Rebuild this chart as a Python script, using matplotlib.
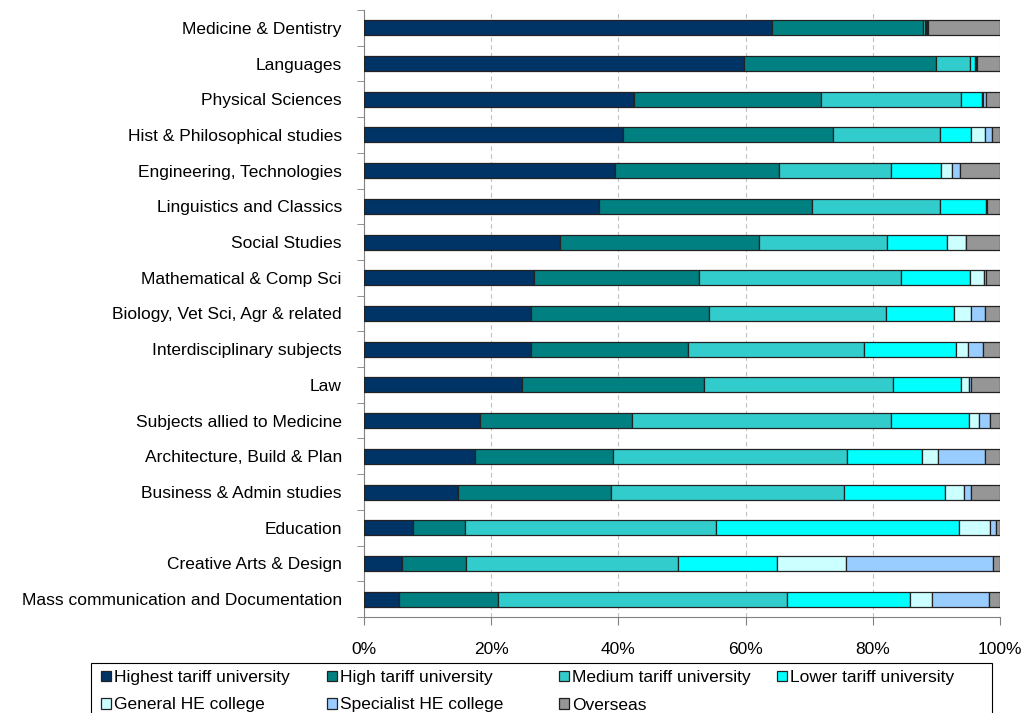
import matplotlib
matplotlib.use("Agg")
import matplotlib.pyplot as plt
from matplotlib.patches import Rectangle
import numpy as np

plt.rcParams["font.family"] = ["Liberation Sans", "DejaVu Sans"]

subjects = [
    "Medicine & Dentistry", "Languages", "Physical Sciences",
    "Hist & Philosophical studies", "Engineering, Technologies",
    "Linguistics and Classics", "Social Studies", "Mathematical & Comp Sci",
    "Biology, Vet Sci, Agr & related", "Interdisciplinary subjects", "Law",
    "Subjects allied to Medicine", "Architecture, Build & Plan",
    "Business & Admin studies", "Education", "Creative Arts & Design",
    "Mass communication and Documentation",
]

series_names = [
    "Highest tariff university", "High tariff university",
    "Medium tariff university", "Lower tariff university",
    "General HE college", "Specialist HE college", "Overseas",
]

highest = [64.1, 59.8, 42.4, 40.7, 39.5, 36.9, 30.8, 26.8, 26.3, 26.3, 24.8, 18.2, 17.4, 14.8, 7.7, 5.9, 5.5]
high = [23.8, 30.2, 29.5, 33.0, 25.8, 33.4, 31.3, 25.8, 28.0, 24.7, 28.6, 24.0, 21.7, 24.1, 8.2, 10.2, 15.5]
medium = [0.3, 5.3, 21.9, 16.8, 17.5, 20.2, 20.1, 31.8, 27.7, 27.6, 29.7, 40.7, 36.9, 36.5, 39.4, 33.3, 45.5]
lower = [0.2, 0.8, 3.3, 5.0, 7.9, 7.2, 9.5, 10.9, 10.7, 14.5, 10.7, 12.2, 11.7, 15.9, 38.2, 15.5, 19.3]
general = [0.2, 0.2, 0.3, 2.2, 1.8, 0.1, 3.0, 2.2, 2.7, 1.8, 1.4, 1.6, 2.6, 3.0, 5.0, 10.9, 3.5]
specialist = [0.1, 0.1, 0.4, 1.0, 1.2, 0.1, 0.0, 0.3, 2.3, 2.5, 0.2, 1.8, 7.4, 1.2, 0.8, 23.1, 8.9]
overseas = [11.3, 3.6, 2.2, 1.3, 6.3, 2.0, 5.3, 2.2, 2.3, 2.6, 4.6, 1.5, 2.3, 4.5, 0.7, 1.1, 1.8]

colors = ["#003366", "#008080", "#33CCCC", "#00FFFF", "#CCFFFF", "#99CCFF", "#969696"]

data = np.array([highest, high, medium, lower, general, specialist, overseas])
data = data / data.sum(axis=0) * 100

W, H = 1023, 713
FS = 12.5

fig = plt.figure(figsize=(W / 100, H / 100), dpi=100)
ax = fig.add_axes([364 / W, 1 - 617 / H, 636 / W, 607 / H])

y = np.arange(len(subjects))[::-1]
left = np.zeros(len(subjects))
handles = []
for i, name in enumerate(series_names):
    h = ax.barh(y, data[i], left=left, height=0.42, color=colors[i],
                edgecolor="#222222", linewidth=0.9, label=name, zorder=3)
    handles.append(h)
    left += data[i]

ax.set_xlim(0, 100)
ax.set_ylim(-0.5, len(subjects) - 0.5)
ax.set_xticks([0, 20, 40, 60, 80, 100])
ax.set_xticklabels(["0%", "20%", "40%", "60%", "80%", "100%"])
ax.set_yticks(y)
ax.set_yticklabels(subjects)
ax.set_yticks(np.arange(-0.5, len(subjects), 1), minor=True)
ax.tick_params(axis="y", which="major", length=0, pad=16, labelsize=FS)
ax.tick_params(axis="y", which="minor", length=5, color="#808080", direction="out")
ax.tick_params(axis="x", length=6, color="#808080", pad=12, labelsize=FS)

ax.grid(True, axis="x", linestyle=(0, (4, 3)), color="#C0C0C0", linewidth=0.8, zorder=0)
for s in ["top", "right"]:
    ax.spines[s].set_visible(False)
for s in ["left", "bottom"]:
    ax.spines[s].set_color("#808080")

# legend: Excel-style grid of 4 equal columns, two rows, framed box cut by the figure edge
fig.patches.append(Rectangle((91 / W, -0.05), (992 - 91) / W, 0.05 + 1 - 663 / H,
                             transform=fig.transFigure, fill=False,
                             edgecolor="black", linewidth=0.8))
col_x = [101, 327, 559, 777]
columns = [[0, 4], [1, 5], [2, 6], [3]]
for cx, idx in zip(col_x, columns):
    fig.legend([handles[k] for k in idx], [series_names[k] for k in idx],
               loc="upper left", bbox_to_anchor=(cx / W, 1 - 670 / H),
               frameon=False, fontsize=FS, handlelength=0.55, handleheight=0.55,
               handletextpad=0.2, borderpad=0, borderaxespad=0, labelspacing=0.72)

plt.savefig("out.png", dpi=100)
